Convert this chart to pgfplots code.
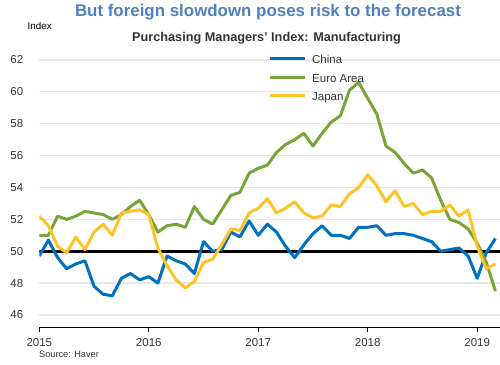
\documentclass[border=0pt]{standalone}
\usepackage{pgfplots}
\pgfplotsset{compat=1.18}
\usepackage{fontspec}
\setmainfont{Liberation Sans}
\definecolor{cnblue}{RGB}{0,112,192}
\definecolor{eugreen}{RGB}{120,165,55}
\definecolor{jpyellow}{RGB}{255,195,40}
\definecolor{titleblue}{RGB}{79,129,189}
\definecolor{txt}{RGB}{51,51,51}
\definecolor{gridgray}{RGB}{232,232,232}
\pgfplotstableread{
m china euro japan
0 49.7 51.0 52.2
1 50.7 51.0 51.6
2 49.6 52.2 50.3
3 48.9 52.0 49.9
4 49.2 52.2 50.9
5 49.4 52.5 50.1
6 47.8 52.4 51.2
7 47.3 52.3 51.7
8 47.2 52.0 51.0
9 48.3 52.3 52.4
10 48.6 52.8 52.5
11 48.2 53.2 52.6
12 48.4 52.3 52.3
13 48.0 51.2 50.2
14 49.7 51.6 49.1
15 49.4 51.7 48.2
16 49.2 51.5 47.7
17 48.6 52.8 48.1
18 50.6 52.0 49.3
19 50.0 51.7 49.5
20 50.1 52.6 50.4
21 51.2 53.5 51.4
22 50.9 53.7 51.3
23 51.9 54.9 52.4
24 51.0 55.2 52.7
25 51.7 55.4 53.3
26 51.2 56.2 52.4
27 50.3 56.7 52.7
28 49.6 57.0 53.1
29 50.4 57.4 52.4
30 51.1 56.6 52.1
31 51.6 57.4 52.2
32 51.0 58.1 52.9
33 51.0 58.5 52.8
34 50.8 60.1 53.6
35 51.5 60.6 54.0
36 51.5 59.6 54.8
37 51.6 58.6 54.1
38 51.0 56.6 53.1
39 51.1 56.2 53.8
40 51.1 55.5 52.8
41 51.0 54.9 53.0
42 50.8 55.1 52.3
43 50.6 54.6 52.5
44 50.0 53.2 52.5
45 50.1 52.0 52.9
46 50.2 51.8 52.2
47 49.7 51.4 52.6
48 48.3 50.5 50.3
49 49.9 49.3 48.9
50 50.8 47.5 49.2
}\pmidata
\begin{document}
\begin{tikzpicture}
\useasboundingbox (0,0) rectangle (500bp,365bp);
\begin{axis}[
  at={(39.3bp,37.3bp)}, anchor=south west,
  scale only axis, width=460.7bp, height=267.7bp,
  xmin=0, xmax=50.5, ymin=45.2, ymax=62,
  axis x line=bottom, axis y line=left,
  x axis line style={-, black, line width=1.5bp},
  y axis line style={draw=none},
  xtick={0,12,24,36,48},
  xticklabels={2015,2016,2017,2018,2019},
  ytick={46,48,...,62},
  tick align=outside, major tick length=4.5bp,
  xtick style={black, line width=1bp},
  ytick style={draw=none},
  ymajorgrids, grid style={gridgray, line width=1.2bp},
  ticklabel style={font=\fontsize{11.5bp}{13bp}\selectfont, text=txt},
  /pgf/number format/assume math mode=true,
  yticklabel style={xshift=-8bp},
  xticklabel style={yshift=-3bp},
  legend style={at={(0.4964,1)}, anchor=north west, yshift=4.8bp,
    draw=none, fill=none, inner sep=0pt, row sep=10.2bp, column sep=6bp,
    nodes={inner sep=0pt, text height=8.3bp, text depth=0pt,
      font=\fontsize{11.5bp}{13bp}\selectfont, text=txt}},
  legend cell align=left,
  legend image code/.code={\draw[#1] (0bp,0.65bp) -- (35bp,0.65bp);},
]
\addplot[black, line width=3.3bp, forget plot] coordinates {(-1,50) (52,50)};
\addplot[cnblue, line width=3bp, line join=round] table[x=m, y=china] {\pmidata};
\addlegendentry{China}
\addplot[eugreen, line width=3bp, line join=round] table[x=m, y=euro] {\pmidata};
\addlegendentry{Euro Area}
\addplot[jpyellow, line width=3bp, line join=round] table[x=m, y=japan] {\pmidata};
\addlegendentry{Japan}
\end{axis}
\node[text=titleblue, font=\fontsize{16.9bp}{19bp}\selectfont\bfseries] at (268bp,353bp) {But foreign slowdown poses risk to the forecast};
\node[text=txt, font=\fontsize{12.7bp}{15bp}\selectfont\bfseries] at (266.5bp,326.5bp) {Purchasing Managers' Index: Manufacturing};
\node[anchor=west, inner sep=0pt, text=black, font=\fontsize{9.8bp}{11bp}\selectfont] at (27.5bp,338.5bp) {Index};
\node[anchor=west, inner sep=0pt, text=txt, font=\fontsize{9.2bp}{11bp}\selectfont] at (39bp,10.2bp) {Source: Haver};
\end{tikzpicture}
\end{document}
